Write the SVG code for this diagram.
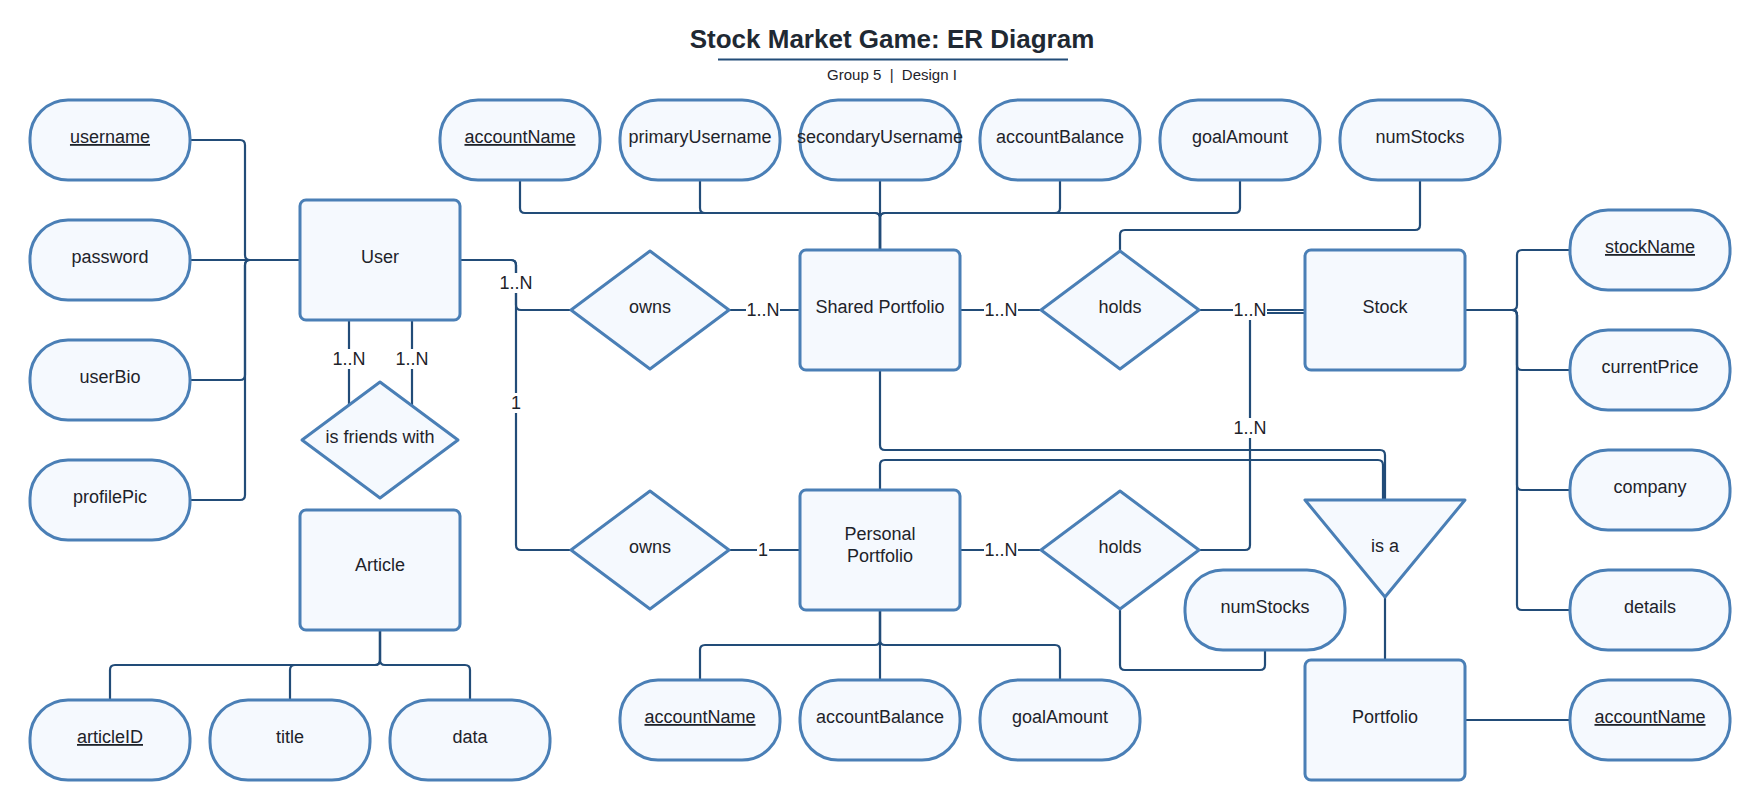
<svg xmlns="http://www.w3.org/2000/svg" width="1760" height="800" viewBox="0 0 1760 800">
<style>
.shape{fill:#f5f9fe;stroke:#4a7fb6;stroke-width:3;stroke-linejoin:round}
.t{font-family:"Liberation Sans",Arial,sans-serif;font-size:18px;fill:#1e232a;text-anchor:middle}
.u{text-decoration:underline}
.c{fill:none;stroke:#224c78;stroke-width:2.2;stroke-linejoin:round}
.bg{fill:#ffffff}
.lbl{font-family:"Liberation Sans",Arial,sans-serif;font-size:18px;fill:#1e232a;text-anchor:middle}
</style>
<rect width="1760" height="800" fill="#ffffff"/>
<g id="title">
<text x="892" y="48" style="font-family:'Liberation Sans',Arial,sans-serif;font-size:26px;font-weight:bold;fill:#1f2933;text-anchor:middle">Stock Market Game: ER Diagram</text>
<line x1="718" y1="59.5" x2="1068" y2="59.5" stroke="#224c78" stroke-width="2.2"/>
<text x="892" y="80" style="font-family:'Liberation Sans',Arial,sans-serif;font-size:15px;fill:#1e232a;text-anchor:middle;white-space:pre" xml:space="preserve">Group 5  |  Design I</text>
</g>
<g id="connectors">
<path class="c" d="M190,140 H240 Q245,140 245,145 V255 Q245,260 250,260 H300"/>
<path class="c" d="M190,260 H300"/>
<path class="c" d="M190,380 H240 Q245,380 245,375 V265 Q245,260 250,260 H300"/>
<path class="c" d="M190,500 H240 Q245,500 245,495 V265 Q245,260 250,260 H300"/>
<path class="c" d="M380,630 V660 Q380,665 375,665 H115 Q110,665 110,670 V700"/>
<path class="c" d="M380,630 V660 Q380,665 375,665 H295 Q290,665 290,670 V700"/>
<path class="c" d="M380,630 V660 Q380,665 385,665 H465 Q470,665 470,670 V700"/>
<path class="c" d="M520,180 V208 Q520,213 525,213 H875 Q880,213 880,218 V250"/>
<path class="c" d="M700,180 V208 Q700,213 705,213 H875 Q880,213 880,218 V250"/>
<path class="c" d="M880,180 V250"/>
<path class="c" d="M1060,180 V208 Q1060,213 1055,213 H885 Q880,213 880,218 V250"/>
<path class="c" d="M1240,180 V208 Q1240,213 1235,213 H885 Q880,213 880,218 V250"/>
<path class="c" d="M1420,180 V225 Q1420,230 1415,230 H1125 Q1120,230 1120,235 V250"/>
<path class="c" d="M460,260 H511 Q516,260 516,265 V305 Q516,310 521,310 H570"/>
<path class="c" d="M460,260 H511 Q516,260 516,265 V545 Q516,550 521,550 H570"/>
<path class="c" d="M730,310 H800"/>
<path class="c" d="M730,550 H800"/>
<path class="c" d="M960,310 H1040"/>
<path class="c" d="M1200,310 H1305"/>
<path class="c" d="M960,550 H1040"/>
<path class="c" d="M1200,550 H1245 Q1250,550 1250,545 V318 Q1250,313 1255,313 H1305"/>
<path class="c" d="M1120,610 V665 Q1120,670 1125,670 H1260 Q1265,670 1265,665 V650"/>
<path class="c" d="M880,370 V445 Q880,450 885,450 H1380 Q1385,450 1385,455 V500"/>
<path class="c" d="M880,490 V465 Q880,460 885,460 H1378 Q1383,460 1383,465 V500"/>
<path class="c" d="M1385,597 V660"/>
<path class="c" d="M1465,720 H1570"/>
<path class="c" d="M1465,310 H1512 Q1517,310 1517,305 V255 Q1517,250 1522,250 H1570"/>
<path class="c" d="M1465,310 H1512 Q1517,310 1517,315 V365 Q1517,370 1522,370 H1570"/>
<path class="c" d="M1465,310 H1512 Q1517,310 1517,315 V485 Q1517,490 1522,490 H1570"/>
<path class="c" d="M1465,310 H1512 Q1517,310 1517,315 V605 Q1517,610 1522,610 H1570"/>
<path class="c" d="M349,320 V405"/>
<path class="c" d="M412,320 V406"/>
<path class="c" d="M880,610 V640 Q880,645 875,645 H705 Q700,645 700,650 V680"/>
<path class="c" d="M880,610 V680"/>
<path class="c" d="M880,610 V640 Q880,645 885,645 H1055 Q1060,645 1060,650 V680"/>
<rect class="bg" x="499" y="273" width="34" height="20"/><text class="lbl" x="516" y="289">1..N</text>
<rect class="bg" x="510" y="393" width="12" height="20"/><text class="lbl" x="516" y="409">1</text>
<rect class="bg" x="746" y="300" width="34" height="20"/><text class="lbl" x="763" y="316">1..N</text>
<rect class="bg" x="757" y="540" width="12" height="20"/><text class="lbl" x="763" y="556">1</text>
<rect class="bg" x="984" y="300" width="34" height="20"/><text class="lbl" x="1001" y="316">1..N</text>
<rect class="bg" x="1233" y="300" width="34" height="20"/><text class="lbl" x="1250" y="316">1..N</text>
<rect class="bg" x="984" y="540" width="34" height="20"/><text class="lbl" x="1001" y="556">1..N</text>
<rect class="bg" x="1233" y="418" width="34" height="20"/><text class="lbl" x="1250" y="434">1..N</text>
<rect class="bg" x="332" y="349" width="34" height="20"/><text class="lbl" x="349" y="365">1..N</text>
<rect class="bg" x="395" y="349" width="34" height="20"/><text class="lbl" x="412" y="365">1..N</text>
</g>
<g id="user"><rect class="shape" x="300" y="200" width="160" height="120" rx="6"/><text class="t" x="380" y="263">User</text></g>
<g id="attr-username"><rect class="shape" x="30" y="100" width="160" height="80" rx="38"/><text class="t u" x="110" y="143">username</text></g>
<g id="attr-password"><rect class="shape" x="30" y="220" width="160" height="80" rx="38"/><text class="t" x="110" y="263">password</text></g>
<g id="attr-userBio"><rect class="shape" x="30" y="340" width="160" height="80" rx="38"/><text class="t" x="110" y="383">userBio</text></g>
<g id="attr-profilePic"><rect class="shape" x="30" y="460" width="160" height="80" rx="38"/><text class="t" x="110" y="503">profilePic</text></g>
<g id="rel-friends"><polygon class="shape" points="380,382 458,440 380,498 302,440"/><text class="t" x="380" y="443">is friends with</text></g>
<g id="article"><rect class="shape" x="300" y="510" width="160" height="120" rx="6"/><text class="t" x="380" y="571">Article</text></g>
<g id="attr-articleID"><rect class="shape" x="30" y="700" width="160" height="80" rx="38"/><text class="t u" x="110" y="743">articleID</text></g>
<g id="attr-title"><rect class="shape" x="210" y="700" width="160" height="80" rx="38"/><text class="t" x="290" y="743">title</text></g>
<g id="attr-data"><rect class="shape" x="390" y="700" width="160" height="80" rx="38"/><text class="t" x="470" y="743">data</text></g>
<g id="attr-sp-accountName"><rect class="shape" x="440" y="100" width="160" height="80" rx="38"/><text class="t u" x="520" y="143">accountName</text></g>
<g id="attr-sp-primaryUsername"><rect class="shape" x="620" y="100" width="160" height="80" rx="38"/><text class="t" x="700" y="143">primaryUsername</text></g>
<g id="attr-sp-secondaryUsername"><rect class="shape" x="800" y="100" width="160" height="80" rx="38"/><text class="t" x="880" y="143">secondaryUsername</text></g>
<g id="attr-sp-accountBalance"><rect class="shape" x="980" y="100" width="160" height="80" rx="38"/><text class="t" x="1060" y="143">accountBalance</text></g>
<g id="attr-sp-goalAmount"><rect class="shape" x="1160" y="100" width="160" height="80" rx="38"/><text class="t" x="1240" y="143">goalAmount</text></g>
<g id="attr-holds-numStocks"><rect class="shape" x="1340" y="100" width="160" height="80" rx="38"/><text class="t" x="1420" y="143">numStocks</text></g>
<g id="rel-owns-shared"><polygon class="shape" points="650,251 729,310 650,369 571,310"/><text class="t" x="650" y="313">owns</text></g>
<g id="shared-portfolio"><rect class="shape" x="800" y="250" width="160" height="120" rx="6"/><text class="t" x="880" y="313">Shared Portfolio</text></g>
<g id="rel-holds-shared"><polygon class="shape" points="1120,251 1199,310 1120,369 1041,310"/><text class="t" x="1120" y="313">holds</text></g>
<g id="stock"><rect class="shape" x="1305" y="250" width="160" height="120" rx="6"/><text class="t" x="1385" y="313">Stock</text></g>
<g id="attr-stockName"><rect class="shape" x="1570" y="210" width="160" height="80" rx="38"/><text class="t u" x="1650" y="253">stockName</text></g>
<g id="attr-currentPrice"><rect class="shape" x="1570" y="330" width="160" height="80" rx="38"/><text class="t" x="1650" y="373">currentPrice</text></g>
<g id="attr-company"><rect class="shape" x="1570" y="450" width="160" height="80" rx="38"/><text class="t" x="1650" y="493">company</text></g>
<g id="attr-details"><rect class="shape" x="1570" y="570" width="160" height="80" rx="38"/><text class="t" x="1650" y="613">details</text></g>
<g id="rel-owns-personal"><polygon class="shape" points="650,491 729,550 650,609 571,550"/><text class="t" x="650" y="553">owns</text></g>
<g id="personal-portfolio"><rect class="shape" x="800" y="490" width="160" height="120" rx="6"/><text class="t" x="880" y="540">Personal</text><text class="t" x="880" y="562">Portfolio</text></g>
<g id="rel-holds-personal"><polygon class="shape" points="1120,491 1199,550 1120,609 1041,550"/><text class="t" x="1120" y="553">holds</text></g>
<g id="attr-holds2-numStocks"><rect class="shape" x="1185" y="570" width="160" height="80" rx="38"/><text class="t" x="1265" y="613">numStocks</text></g>
<g id="isa"><polygon class="shape" points="1305,500 1465,500 1385,597"/><text class="t" x="1385" y="552">is a</text></g>
<g id="portfolio"><rect class="shape" x="1305" y="660" width="160" height="120" rx="6"/><text class="t" x="1385" y="723">Portfolio</text></g>
<g id="attr-p-accountName"><rect class="shape" x="1570" y="680" width="160" height="80" rx="38"/><text class="t u" x="1650" y="723">accountName</text></g>
<g id="attr-pp-accountName"><rect class="shape" x="620" y="680" width="160" height="80" rx="38"/><text class="t u" x="700" y="723">accountName</text></g>
<g id="attr-pp-accountBalance"><rect class="shape" x="800" y="680" width="160" height="80" rx="38"/><text class="t" x="880" y="723">accountBalance</text></g>
<g id="attr-pp-goalAmount"><rect class="shape" x="980" y="680" width="160" height="80" rx="38"/><text class="t" x="1060" y="723">goalAmount</text></g>
</svg>
